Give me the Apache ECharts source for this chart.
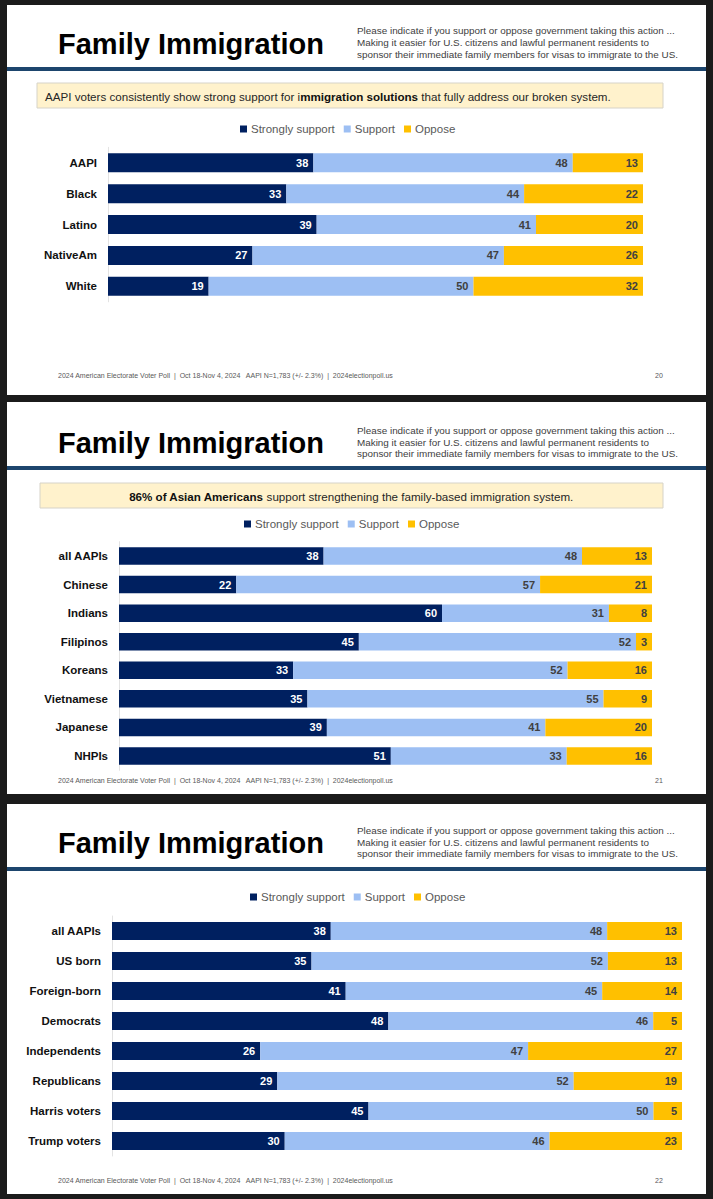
<!DOCTYPE html>
<html>
<head>
<meta charset="utf-8">
<script src="https://cdn.jsdelivr.net/npm/echarts@6/dist/echarts.min.js"></script>
<style>
html,body{margin:0;padding:0;background:#1b1b1b;}
#c{width:713px;height:1199px;}
</style>
</head>
<body>
<div id="c"></div>
<script>
// ---- data ----
const legendNames = ['Strongly support', 'Support', 'Oppose'];

const cats1 = ['AAPI', 'Black', 'Latino', 'NativeAm', 'White'];
const strong1 = [38, 33, 39, 27, 19];
const support1 = [48, 44, 41, 47, 50];
const oppose1 = [13, 22, 20, 26, 32];

const cats2 = ['all AAPIs', 'Chinese', 'Indians', 'Filipinos', 'Koreans', 'Vietnamese', 'Japanese', 'NHPIs'];
const strong2 = [38, 22, 60, 45, 33, 35, 39, 51];
const support2 = [48, 57, 31, 52, 52, 55, 41, 33];
const oppose2 = [13, 21, 8, 3, 16, 9, 20, 16];

const cats3 = ['all AAPIs', 'US born', 'Foreign-born', 'Democrats', 'Independents', 'Republicans', 'Harris voters', 'Trump voters'];
const strong3 = [38, 35, 41, 48, 26, 29, 45, 30];
const support3 = [48, 52, 45, 46, 47, 52, 50, 46];
const oppose3 = [13, 13, 14, 5, 27, 19, 5, 23];

const titleText = 'Family Immigration';
const questionLines = [
  'Please indicate if you support or oppose government taking this action ...',
  'Making it easier for U.S. citizens and lawful permanent residents to',
  'sponsor their immediate family members for visas to immigrate to the US.'
];
const footerText = '2024 American Electorate Voter Poll  |  Oct 18-Nov 4, 2024   AAPI N=1,783 (+/- 2.3%)  |  2024electionpoll.us';
const pageNums = ['20', '21', '22'];

// ---- styles ----
const F = "'Liberation Sans', Arial, sans-serif";
const NAVY = '#002060', LIGHT = '#9dbff3', GOLD = '#ffc000';
const colors = [NAVY, LIGHT, GOLD];

const slides = [
  {top: 5, h: 390, cats: cats1, vals: [strong1, support1, oppose1],
   grid: {left: 108, width: 535, top: 147.3, height: 154.5}, bw: 19, legendLeft: 240, legendTop: 123,
   qY: [30.5, 42.5, 54.5], lineY: 69, footY: 375},
  {top: 402, h: 392, cats: cats2, vals: [strong2, support2, oppose2],
   grid: {left: 119, width: 533, top: 541.7, height: 228.6}, bw: 17.5, legendLeft: 244, legendTop: 518,
   qY: [430.5, 442, 453.5], lineY: 468, footY: 780},
  {top: 804, h: 390, cats: cats3, vals: [strong3, support3, oppose3],
   grid: {left: 112, width: 570, top: 916, height: 240}, bw: 18, legendLeft: 250, legendTop: 891,
   qY: [830.5, 842, 853.5], lineY: 869, footY: 1180}
];
const titleY = [44, 443, 843];

const chart = echarts.init(document.getElementById('c'), null, {renderer: 'svg'});

const grids = [], xAxes = [], yAxes = [], series = [], legends = [], graphics = [];

slides.forEach((s, i) => {
  // slide background
  graphics.push({type: 'rect', z: -10, shape: {x: 7, y: s.top, width: 699, height: s.h}, style: {fill: '#ffffff'}});
  // title
  graphics.push({type: 'text', z: 10, x: 58, y: titleY[i], style: {text: titleText, fontFamily: F, fontSize: 29, fontWeight: 'bold', fill: '#000000', textVerticalAlign: 'middle'}});
  // question lines
  questionLines.forEach((t, k) => {
    graphics.push({type: 'text', z: 10, x: 357, y: s.qY[k], style: {text: t, fontFamily: F, fontSize: 9.9, fill: '#404040', textVerticalAlign: 'middle'}});
  });
  // blue rule
  graphics.push({type: 'rect', z: 5, shape: {x: 7, y: s.lineY - 2, width: 699, height: 4}, style: {fill: '#1d456d'}});
  // footer
  graphics.push({type: 'text', z: 10, x: 58, y: s.footY, style: {text: footerText, fontFamily: F, fontSize: 7, fill: '#595959', textVerticalAlign: 'middle'}});
  graphics.push({type: 'text', z: 10, x: 655, y: s.footY, style: {text: pageNums[i], fontFamily: F, fontSize: 7, fill: '#595959', textVerticalAlign: 'middle'}});

  grids.push(Object.assign({containLabel: false}, s.grid));
  xAxes.push({type: 'value', gridIndex: i, min: 0, max: 100, show: false});
  yAxes.push({
    type: 'category', gridIndex: i, inverse: true, data: s.cats,
    axisLine: {show: true, lineStyle: {color: '#e3e3e3', width: 1}},
    axisTick: {show: false},
    axisLabel: {margin: 11, fontFamily: F, fontSize: 11.5, fontWeight: 'bold', color: '#111111'}
  });
  const tot = s.cats.map((c, k) => s.vals[0][k] + s.vals[1][k] + s.vals[2][k]);
  s.vals.forEach((arr, j) => {
    series.push({
      type: 'bar', name: legendNames[j], xAxisIndex: i, yAxisIndex: i, stack: 'st' + i,
      barWidth: s.bw, itemStyle: {color: colors[j]},
      emphasis: {disabled: true},
      label: {
        show: true, position: 'insideRight', distance: 5,
        formatter: p => String(arr[p.dataIndex]),
        fontFamily: F, fontSize: 11, fontWeight: 'bold',
        color: j === 0 ? '#ffffff' : '#404040'
      },
      data: arr.map((v, k) => v / tot[k] * 100)
    });
  });
  legends.push({
    data: legendNames, left: s.legendLeft, top: s.legendTop, padding: 0,
    icon: 'rect', itemWidth: 7, itemHeight: 7, itemGap: 9, selectedMode: false,
    textStyle: {fontFamily: F, fontSize: 11.5, color: '#595959', padding: [0, 0, 0, -1]}
  });
});

// callout boxes
graphics.push({type: 'rect', z: 1, shape: {x: 37, y: 83, width: 626, height: 25}, style: {fill: '#fff2cc', stroke: '#d6d3c8', lineWidth: 1}});
graphics.push({type: 'text', z: 10, x: 45, y: 96, style: {
  text: '{r|AAPI voters consistently show strong support for i}{b|mmigration solutions}{r| that fully address our broken system.}',
  textVerticalAlign: 'middle',
  rich: {
    r: {fontFamily: F, fontSize: 11.6, fill: '#262626', color: '#262626'},
    b: {fontFamily: F, fontSize: 11.6, fontWeight: 'bold', fill: '#111111', color: '#111111'}
  }
}});
graphics.push({type: 'rect', z: 1, shape: {x: 40, y: 483, width: 623, height: 25}, style: {fill: '#fff2cc', stroke: '#d6d3c8', lineWidth: 1}});
graphics.push({type: 'text', z: 10, x: 351, y: 496, style: {
  text: '{b|86% of Asian Americans}{r| support strengthening the family-based immigration system.}',
  textAlign: 'center', textVerticalAlign: 'middle',
  rich: {
    r: {fontFamily: F, fontSize: 11.6, fill: '#262626', color: '#262626'},
    b: {fontFamily: F, fontSize: 11.6, fontWeight: 'bold', fill: '#111111', color: '#111111'}
  }
}});

chart.setOption({
  backgroundColor: '#1b1b1b',
  animation: false,
  grid: grids,
  xAxis: xAxes,
  yAxis: yAxes,
  legend: legends,
  series: series,
  graphic: graphics
});
</script>
</body>
</html>
